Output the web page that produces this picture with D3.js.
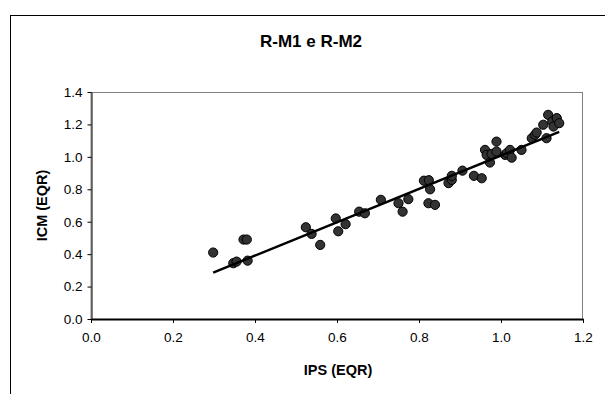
<!DOCTYPE html>
<html>
<head>
<meta charset="utf-8">
<script src="https://cdn.jsdelivr.net/npm/d3@7"></script>
<style>
  body { margin: 0; background: #fff; }
  svg { display: block; font-family: "Liberation Sans", Arial, sans-serif; }
</style>
</head>
<body>
<figure id="scatter" style="margin:0"></figure>
<script>
// IPS (EQR) values on x, ICM (EQR) on y
const ips = [0.298, 0.347, 0.355, 0.372, 0.380, 0.382, 0.524, 0.538, 0.559, 0.597,
  0.603, 0.621, 0.654, 0.668, 0.707, 0.750, 0.760, 0.774, 0.812, 0.824,
  0.823, 0.839, 0.827, 0.872, 0.880, 0.880, 0.906, 0.934, 0.953, 0.961,
  0.965, 0.973, 0.977, 0.989, 0.989, 1.010, 1.014, 1.022, 1.026, 1.050,
  1.075, 1.083, 1.087, 1.111, 1.103, 1.115, 1.125, 1.128, 1.136, 1.142];
const icm = [0.410, 0.344, 0.354, 0.490, 0.490, 0.360, 0.566, 0.525, 0.457, 0.620,
  0.541, 0.585, 0.662, 0.652, 0.735, 0.714, 0.662, 0.739, 0.853, 0.856,
  0.714, 0.704, 0.800, 0.838, 0.858, 0.883, 0.915, 0.883, 0.868, 1.043,
  1.012, 0.965, 1.018, 1.094, 1.033, 1.012, 1.023, 1.043, 0.995, 1.043,
  1.115, 1.136, 1.150, 1.115, 1.198, 1.259, 1.218, 1.187, 1.239, 1.208];
const xTicks = [0.0, 0.2, 0.4, 0.6, 0.8, 1.0, 1.2];
const yTicks = [0.0, 0.2, 0.4, 0.6, 0.8, 1.0, 1.2, 1.4];
// linear trend line
const trendSlope = 1.028;
const trendIntercept = -0.02;

const width = 605, height = 394;
const plot = { left: 91, right: 583, top: 92, bottom: 319 };
const font = "Liberation Sans, Arial, sans-serif";

const svg = d3.select("figure#scatter")
  .append("svg")
  .attr("width", width)
  .attr("height", height);

// outer chart frame (cropped on the right and bottom)
svg.append("rect")
  .attr("x", 10.5).attr("y", 15.5)
  .attr("width", 700).attr("height", 500)
  .attr("fill", "none").attr("stroke", "#000").attr("stroke-width", 1);

svg.append("text")
  .attr("x", 311).attr("y", 47)
  .attr("text-anchor", "middle")
  .attr("font-size", 17).attr("font-weight", "bold")
  .text("R-M1 e R-M2");

const x = d3.scaleLinear().domain([0, 1.2]).range([plot.left, plot.right]);
const y = d3.scaleLinear().domain([0, 1.4]).range([plot.bottom, plot.top]);

// plot area border
svg.append("rect")
  .attr("x", plot.left).attr("y", plot.top + 0.5)
  .attr("width", plot.right - plot.left - 0.5)
  .attr("height", plot.bottom - plot.top)
  .attr("fill", "none").attr("stroke", "#808080").attr("stroke-width", 1);

// X axis
const xAxis = svg.append("g")
  .attr("transform", "translate(0," + plot.bottom + ")")
  .call(d3.axisBottom(x).tickValues(xTicks).tickFormat(d3.format(".1f")).tickSize(4).tickSizeOuter(0).tickPadding(9));
xAxis.select(".domain").attr("stroke-width", 2);
xAxis.selectAll("text").attr("font-size", 13.5).attr("fill", "#000").attr("font-family", font);

// Y axis
const yAxis = svg.append("g")
  .attr("transform", "translate(" + (plot.left + 0.5) + ",0)")
  .call(d3.axisLeft(y).tickValues(yTicks).tickFormat(d3.format(".1f")).tickSize(4).tickSizeOuter(0).tickPadding(5));
yAxis.selectAll("text").attr("font-size", 13.5).attr("fill", "#000").attr("font-family", font);

svg.append("text")
  .attr("x", 338).attr("y", 375)
  .attr("text-anchor", "middle")
  .attr("font-size", 14.5).attr("font-weight", "bold")
  .text("IPS (EQR)");

svg.append("text")
  .attr("transform", "translate(47," + ((plot.top + plot.bottom) / 2) + ") rotate(-90)")
  .attr("text-anchor", "middle")
  .attr("font-size", 14.5).attr("font-weight", "bold")
  .text("ICM (EQR)");

// points
const data = ips.map((d, i) => ({ ips: d, icm: icm[i] }));
svg.append("g").selectAll("circle")
  .data(data)
  .enter()
  .append("circle")
  .attr("cx", d => x(d.ips))
  .attr("cy", d => y(d.icm))
  .attr("r", 4.6)
  .attr("fill", "#333333")
  .attr("stroke", "#000")
  .attr("stroke-width", 1);

// trend line across the data range
const xr = d3.extent(ips);
svg.append("line")
  .attr("x1", x(xr[0])).attr("y1", y(trendSlope * xr[0] + trendIntercept))
  .attr("x2", x(xr[1])).attr("y2", y(trendSlope * xr[1] + trendIntercept))
  .attr("stroke", "#000").attr("stroke-width", 2.5);
</script>
</body>
</html>
